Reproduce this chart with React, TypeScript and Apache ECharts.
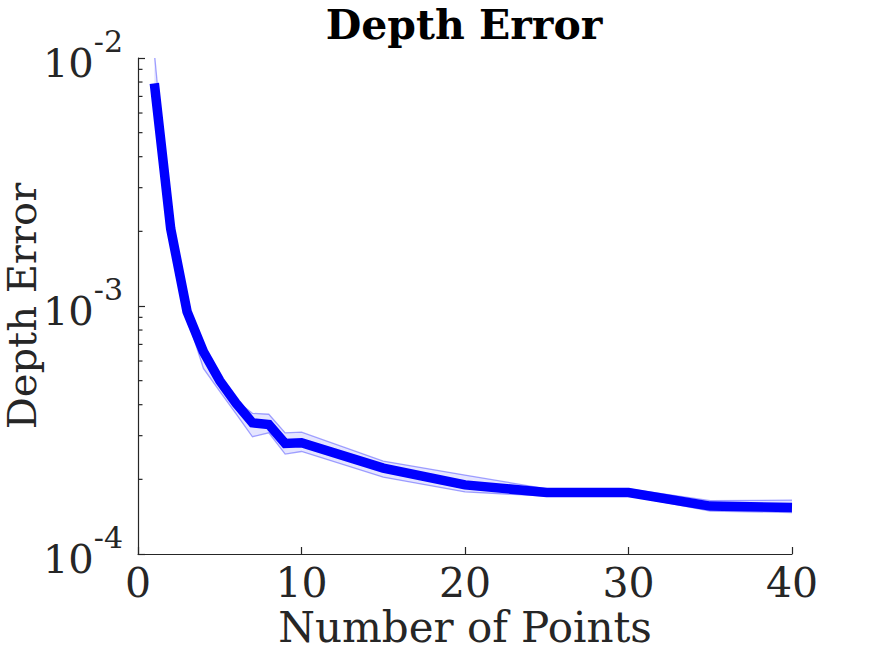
import React, { useEffect, useRef } from "react";
import * as echarts from "echarts";

const numPoints = [1, 2, 3, 4, 5, 6, 7, 8, 9, 10, 15, 20, 25, 30, 35, 40];
const meanError = [7.9e-3, 2.05e-3, 9.5e-4, 6.55e-4, 5.0e-4, 4.05e-4, 3.38e-4, 3.33e-4, 2.79e-4, 2.81e-4, 2.22e-4, 1.9e-4, 1.77e-4, 1.77e-4, 1.56e-4, 1.54e-4];
const upperError = [1.05e-2, 2.12e-3, 1.0e-3, 6.75e-4, 5.15e-4, 4.15e-4, 3.69e-4, 3.66e-4, 3.08e-4, 3.1e-4, 2.37e-4, 2.08e-4, 1.83e-4, 1.83e-4, 1.64e-4, 1.65e-4];
const lowerError = [7.3e-3, 1.95e-3, 9.0e-4, 5.6e-4, 4.53e-4, 3.67e-4, 2.97e-4, 3.08e-4, 2.53e-4, 2.59e-4, 2.04e-4, 1.78e-4, 1.71e-4, 1.72e-4, 1.49e-4, 1.47e-4];
const minorTickValues = [2e-4, 3e-4, 4e-4, 5e-4, 6e-4, 7e-4, 8e-4, 9e-4, 2e-3, 3e-3, 4e-3, 5e-3, 6e-3, 7e-3, 8e-3, 9e-3];
const yExponents: Record<string, string> = { "0.0001": "-4", "0.001": "-3", "0.01": "-2" };

const FONT = "'DejaVu Serif', serif";
const INK = "#262626";

export default function App() {
  const ref = useRef<HTMLDivElement>(null);
  useEffect(() => {
    if (!ref.current) return;
    const chart = echarts.init(ref.current, null, { renderer: "svg" });
    const bandData = numPoints.map((x, i) => [x, lowerError[i], upperError[i]]);
    chart.setOption({
      animation: false,
      backgroundColor: "#ffffff",
      title: {
        text: "Depth Error",
        left: 459,
        top: -1,
        textAlign: "center",
        textStyle: { fontFamily: FONT, fontWeight: "bold", fontSize: 41, color: "#000" },
      },
      grid: { left: 138, right: 83, top: 58, bottom: 102, containLabel: false, outerBoundsMode: "none" },
      xAxis: {
        type: "value",
        min: 0,
        max: 40,
        interval: 10,
        name: "Number of Points",
        nameLocation: "middle",
        nameGap: 52,
        nameMoveOverlap: false,
        nameTextStyle: { fontFamily: FONT, fontSize: 42, color: INK },
        axisLine: { show: true, lineStyle: { color: INK, width: 1.2 } },
        axisTick: { show: true, inside: true, length: 7, lineStyle: { color: INK, width: 1.2 } },
        axisLabel: { fontFamily: FONT, fontSize: 41, color: INK, margin: 8 },
        splitLine: { show: false },
      },
      yAxis: {
        type: "log",
        logBase: 10,
        min: 1e-4,
        max: 1e-2,
        name: "Depth Error",
        nameLocation: "middle",
        nameGap: 96,
        nameMoveOverlap: false,
        nameTextStyle: { fontFamily: FONT, fontSize: 40, color: INK },
        axisLine: { show: true, lineStyle: { color: INK, width: 1.2 } },
        axisTick: { show: true, inside: true, length: 7, lineStyle: { color: INK, width: 1.2 } },
        axisLabel: {
          margin: 15,
          formatter: (v: number) => {
            const key = String(Number(v.toPrecision(3)));
            const exp = yExponents[key] ?? String(Math.round(Math.log10(v)));
            return "{a|10}{b|" + exp + "}";
          },
          rich: {
            a: { fontFamily: FONT, fontSize: 40, color: INK, padding: [10, 0, 0, 0] },
            b: { fontFamily: FONT, fontSize: 30, color: INK, padding: [0, 0, 34, 0] },
          },
        },
        splitLine: { show: false },
      },
      series: [
        {
          type: "custom",
          clip: true,
          data: bandData,
          encode: { x: 0, y: 1 },
          silent: true,
          z: 1,
          renderItem: (params: any, api: any) => {
            if (params.dataIndex !== 0) return null;
            const up = numPoints.map((x, i) => api.coord([x, upperError[i]]));
            const lo = numPoints.map((x, i) => api.coord([x, lowerError[i]]));
            const poly = up.concat(lo.slice().reverse());
            return {
              type: "group",
              children: [
                { type: "polygon", shape: { points: poly }, style: { fill: "rgba(0,0,255,0.1)", stroke: "none" } },
                { type: "polyline", shape: { points: up }, style: { fill: "none", stroke: "rgba(0,0,255,0.35)", lineWidth: 1.3 } },
                { type: "polyline", shape: { points: lo }, style: { fill: "none", stroke: "rgba(0,0,255,0.35)", lineWidth: 1.3 } },
              ],
            };
          },
        },
        {
          type: "line",
          data: numPoints.map((x, i) => [x, meanError[i]]),
          showSymbol: false,
          clip: true,
          z: 2,
          lineStyle: { color: "#0000ff", width: 9.5, cap: "butt", join: "miter" },
        },
        {
          type: "custom",
          data: minorTickValues.map((v) => [0, v]),
          encode: { x: 0, y: 1 },
          silent: true,
          z: 3,
          renderItem: (params: any, api: any) => {
            const p = api.coord([api.value(0), api.value(1)]);
            return {
              type: "line",
              shape: { x1: p[0], y1: p[1], x2: p[0] + 4.5, y2: p[1] },
              style: { stroke: INK, lineWidth: 1.2 },
            };
          },
        },
      ],
    });
    return () => chart.dispose();
  }, []);
  return <div ref={ref} style={{ position: "absolute", left: 0, top: 0, width: 875, height: 656 }} />;
}
